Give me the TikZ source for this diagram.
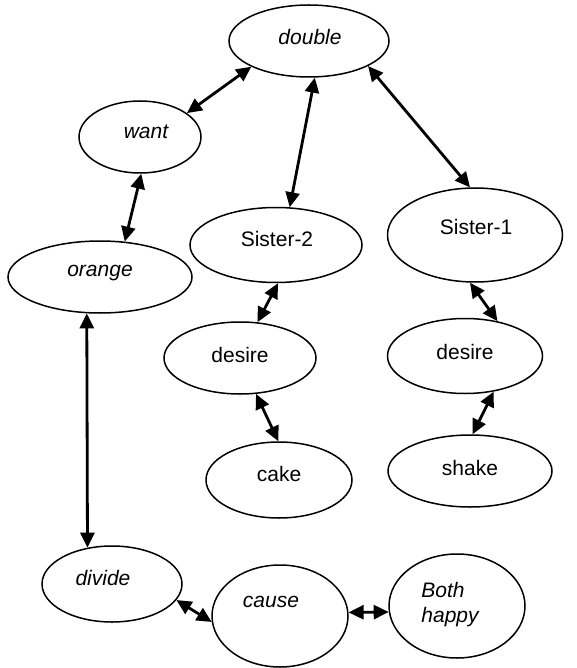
\documentclass[tikz,border=0pt]{standalone}
\usepackage{fontspec}
\setmainfont{Liberation Sans}
\usetikzlibrary{arrows.meta,shapes.geometric}

\begin{document}
\begin{tikzpicture}[x=1pt,y=-1pt,
    elipse/.style={draw,ellipse,line width=1.5pt,inner sep=0pt},
    flecha/.style={{Triangle[length=15pt,width=14pt]}-{Triangle[length=15pt,width=14pt]},line width=2.8pt},
    every label/.style={font=\fontsize{21}{25}\selectfont,inner sep=0pt}]
    \useasboundingbox (0,0) rectangle (577,668);
    % ---- Nodos ----
    \node[elipse,minimum width=160pt,minimum height=72pt,
        label={[font=\fontsize{21}{25}\selectfont\itshape,xshift=1pt,yshift=4pt]center:double}] (double) at (309,41) {};
    \node[elipse,minimum width=122pt,minimum height=72pt,
        label={[font=\fontsize{21}{25}\selectfont\itshape,xshift=6pt,yshift=5pt]center:want}] (want) at (140,137) {};
    \node[elipse,minimum width=184pt,minimum height=72pt,
        label={[font=\fontsize{21}{25}\selectfont\itshape,yshift=4pt]center:orange}] (orange) at (100,277) {};
    \node[elipse,minimum width=172pt,minimum height=75pt,
        label={[xshift=1pt,yshift=6pt]center:Sister-2}] (sister2) at (276,245) {};
    \node[elipse,minimum width=175pt,minimum height=94pt,
        label={[xshift=1pt,yshift=8pt]center:Sister-1}] (sister1) at (475,235) {};
    \node[elipse,minimum width=152pt,minimum height=72pt,
        label={[yshift=3pt]center:desire}] (desire2) at (240,358) {};
    \node[elipse,minimum width=155pt,minimum height=75pt,
        label={[yshift=4pt]center:desire}] (desire1) at (465,356) {};
    \node[elipse,minimum width=146pt,minimum height=76pt,
        label={[yshift=6pt]center:cake}] (cake) at (279,480) {};
    \node[elipse,minimum width=164pt,minimum height=72pt,
        label={[yshift=3pt]center:shake}] (shake) at (470,471) {};
    \node[elipse,minimum width=140pt,minimum height=76pt,
        label={[font=\fontsize{21}{25}\selectfont\itshape,xshift=-9pt,yshift=6pt]center:divide}] (divide) at (112,584) {};
    \node[elipse,minimum width=136pt,minimum height=102pt,
        label={[font=\fontsize{21}{25}\selectfont\itshape,xshift=-9pt,yshift=14pt]center:cause}] (cause) at (280,616) {};
    \node[elipse,minimum width=136pt,minimum height=104pt,
        label={[font=\fontsize{21}{25}\selectfont\itshape,align=left,xshift=-7pt,yshift=1pt]center:Both\\happy}] (happy) at (457,606) {};

    % ---- Flechas ----
    \draw[flecha] (want.27) -- (double.204);
    \draw[flecha] (double.-81) -- (sister2.70);
    \draw[flecha] (double.-23) -- (sister1.96);
    \draw[flecha] (want.-88) -- (orange.55);
    \draw[flecha] (sister2.-87) -- (desire2.64);
    \draw[flecha] (sister1.-96) -- (desire1.47);
    \draw[flecha] (desire2.-66) -- (cake.91);
    \draw[flecha] (desire1.-51) -- (shake.86);
    \draw[flecha] (orange.-110) -- (divide.124);
    \draw[flecha] (divide.-14) -- (cause.185);
    \draw[flecha] (cause.3) -- (happy.185);
\end{tikzpicture}
\end{document}
